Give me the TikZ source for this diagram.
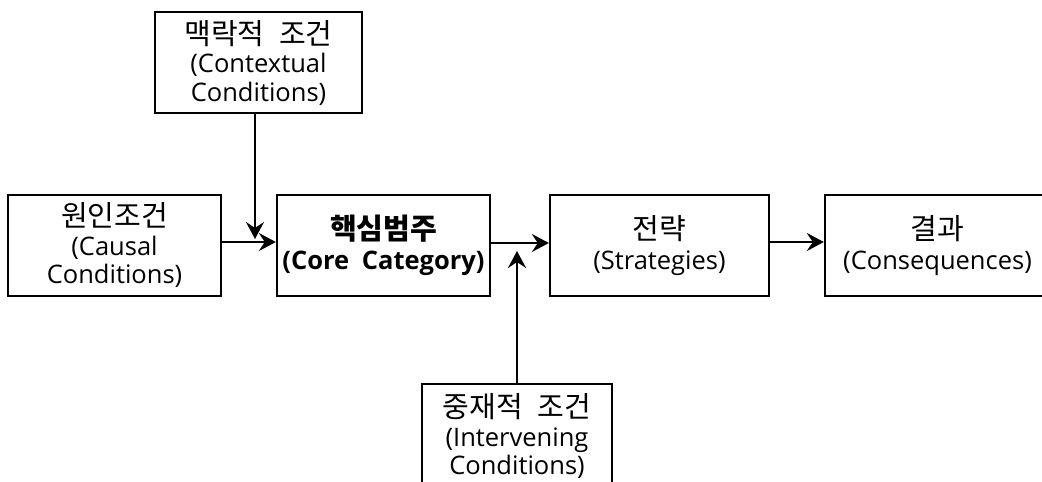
\documentclass[tikz,border=0pt]{standalone}
\usepackage{fontspec}
\setmainfont{Open Sans}
\newfontfamily\kr[Scale=1.14]{Noto Sans CJK KR}
\usetikzlibrary{arrows.meta}
\tikzset{
  box/.style={draw=black, line width=2.3pt, rectangle, align=center, inner sep=0pt,
    minimum height=101pt, font=\fontsize{25.5}{28.5}\selectfont},
  conn/.style={line width=2.8pt, -{Stealth[length=17pt,width=18pt,inset=6pt]}},
}
\begin{document}
\begin{tikzpicture}[x=1pt,y=-1pt]
\useasboundingbox (0,0) rectangle (1042,482);
\clip (0,0) rectangle (1042,482);
\node[box, minimum width=207pt] (ctx) at (258.5,62.5) {{\kr 맥락적\hspace{0.5em}조건}\\(Contextual\\Conditions)};
\node[box, minimum width=213pt] (cause) at (114.5,245.5) {{\kr 원인조건}\\(Causal\\Conditions)};
\node[box, minimum width=213pt, font=\fontsize{25.5}{30}\selectfont\bfseries] (core) at (383.5,245.5) {{\kr\bfseries 핵심범주}\\(Core\hspace{0.5em}Category)};
\node[box, minimum width=219pt, font=\fontsize{25.5}{30}\selectfont] (strat) at (659.5,245.5) {{\kr 전략}\\(Strategies)};
\node[box, minimum width=225pt, font=\fontsize{25.5}{30}\selectfont] (cons) at (937.5,245.5) {{\kr 결과}\\(Consequences)};
\node[box, minimum width=190pt, minimum height=104pt] (interv) at (517,436) {{\kr 중재적\hspace{0.5em}조건}\\(Intervening\\Conditions)};
\coordinate (m1) at (255,239);
\coordinate (m2) at (517,251);
\draw[conn] (ctx.south -| m1) -- (m1);
\draw[conn] ([yshift=3.5pt]cause.east) -- ([yshift=3.5pt]core.west);
\draw[conn] ([yshift=2.5pt]core.east) -- ([yshift=2.5pt]strat.west);
\draw[conn] (interv.north) -- (m2);
\draw[conn] ([yshift=3.5pt]strat.east) -- ([yshift=3.5pt]cons.west);
\end{tikzpicture}
\end{document}
